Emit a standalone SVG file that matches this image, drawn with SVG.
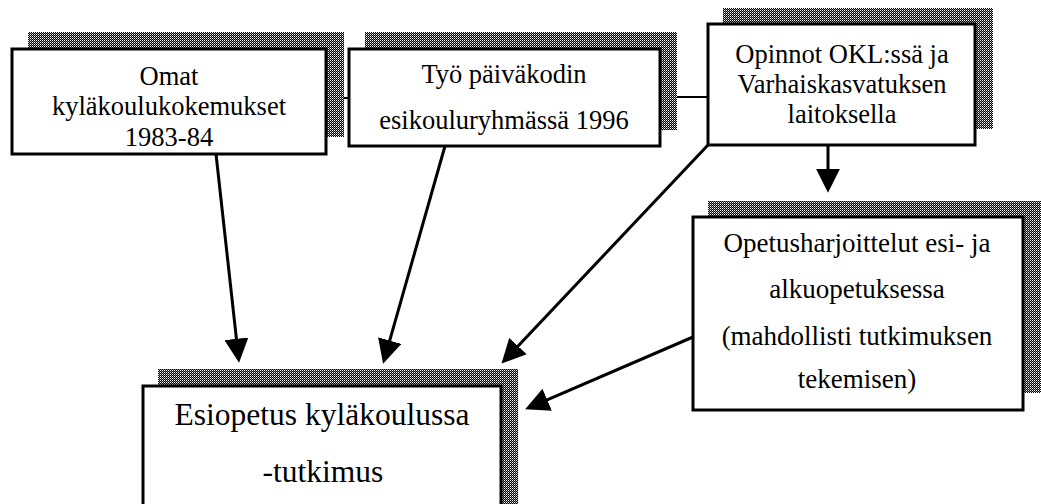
<svg xmlns="http://www.w3.org/2000/svg" width="1041" height="504" viewBox="0 0 1041 504">
<defs>
<pattern id="dots" width="2" height="2" patternUnits="userSpaceOnUse">
<rect width="2" height="2" fill="#000"/>
<rect x="0" y="0" width="1" height="1" fill="#fff"/>
<rect x="1" y="1" width="1" height="1" fill="#888"/>
</pattern>
<marker id="arr" markerUnits="userSpaceOnUse" markerWidth="24" markerHeight="24" viewBox="0 0 22 22" refX="14" refY="11" orient="auto">
<path d="M0,0 L22,11 L0,22 z" fill="#000"/>
</marker>
<style>
.shadow{fill:url(#dots);stroke:none}
.box{fill:#fff;stroke:#000;stroke-width:3}
.t{font-family:"Liberation Serif","Times New Roman",serif;fill:#000;text-anchor:middle}
.s26{font-size:26.5px}
.s27{font-size:27px}
.s31{font-size:31.5px}
.link{stroke:#000;stroke-width:2;fill:none}
.arrow{stroke:#000;stroke-width:3;fill:none;marker-end:url(#arr)}
</style>
</defs>
<rect width="1041" height="504" fill="#fff"/>
<g id="connectors">
<line class="link" x1="326" y1="98" x2="349" y2="98"/>
<line class="link" x1="660" y1="97" x2="708" y2="97"/>
<line class="arrow" x1="216" y1="154" x2="238.1" y2="354"/>
<line class="arrow" x1="445" y1="146" x2="385.5" y2="355.3"/>
<line class="arrow" x1="708" y1="145" x2="507.5" y2="357.2"/>
<line class="arrow" x1="693" y1="337" x2="533.2" y2="405.8"/>
<line class="arrow" x1="828" y1="145" x2="828" y2="184"/>
</g>
<g id="node-omat">
<rect class="shadow" x="28" y="32" width="316" height="105"/>
<rect class="box" x="12" y="49" width="314" height="105"/>
<text class="t s26" x="169" y="85">Omat</text>
<text class="t s26" x="169" y="115">kyläkoulukokemukset</text>
<text class="t s26" x="169" y="146">1983-84</text>
</g>
<g id="node-tyo">
<rect class="shadow" x="365" y="32" width="312" height="98"/>
<rect class="box" x="349" y="49" width="311" height="97"/>
<text class="t s26" x="504" y="83">Työ päiväkodin</text>
<text class="t s26" x="504" y="129">esikouluryhmässä 1996</text>
</g>
<g id="node-opinnot">
<rect class="shadow" x="723" y="8" width="270" height="121"/>
<rect class="box" x="708" y="24" width="267" height="121"/>
<text class="t s26" x="842" y="63">Opinnot OKL:ssä ja</text>
<text class="t s26" x="842" y="93">Varhaiskasvatuksen</text>
<text class="t s26" x="842" y="123">laitoksella</text>
</g>
<g id="node-opetusharjoittelut">
<rect class="shadow" x="708" y="201" width="333" height="192"/>
<rect class="box" x="693" y="217" width="330" height="193"/>
<text class="t s27" x="857" y="252">Opetusharjoittelut esi- ja</text>
<text class="t s27" x="857" y="298">alkuopetuksessa</text>
<text class="t s27" x="857" y="345">(mahdollisti tutkimuksen</text>
<text class="t s27" x="857" y="388">tekemisen)</text>
</g>
<g id="node-esiopetus">
<rect class="shadow" x="158" y="369" width="360" height="150"/>
<rect class="box" x="143" y="386" width="358" height="140"/>
<text class="t s31" x="322" y="425">Esiopetus kyläkoulussa</text>
<text class="t s31" x="323" y="482">-tutkimus</text>
</g>
</svg>
